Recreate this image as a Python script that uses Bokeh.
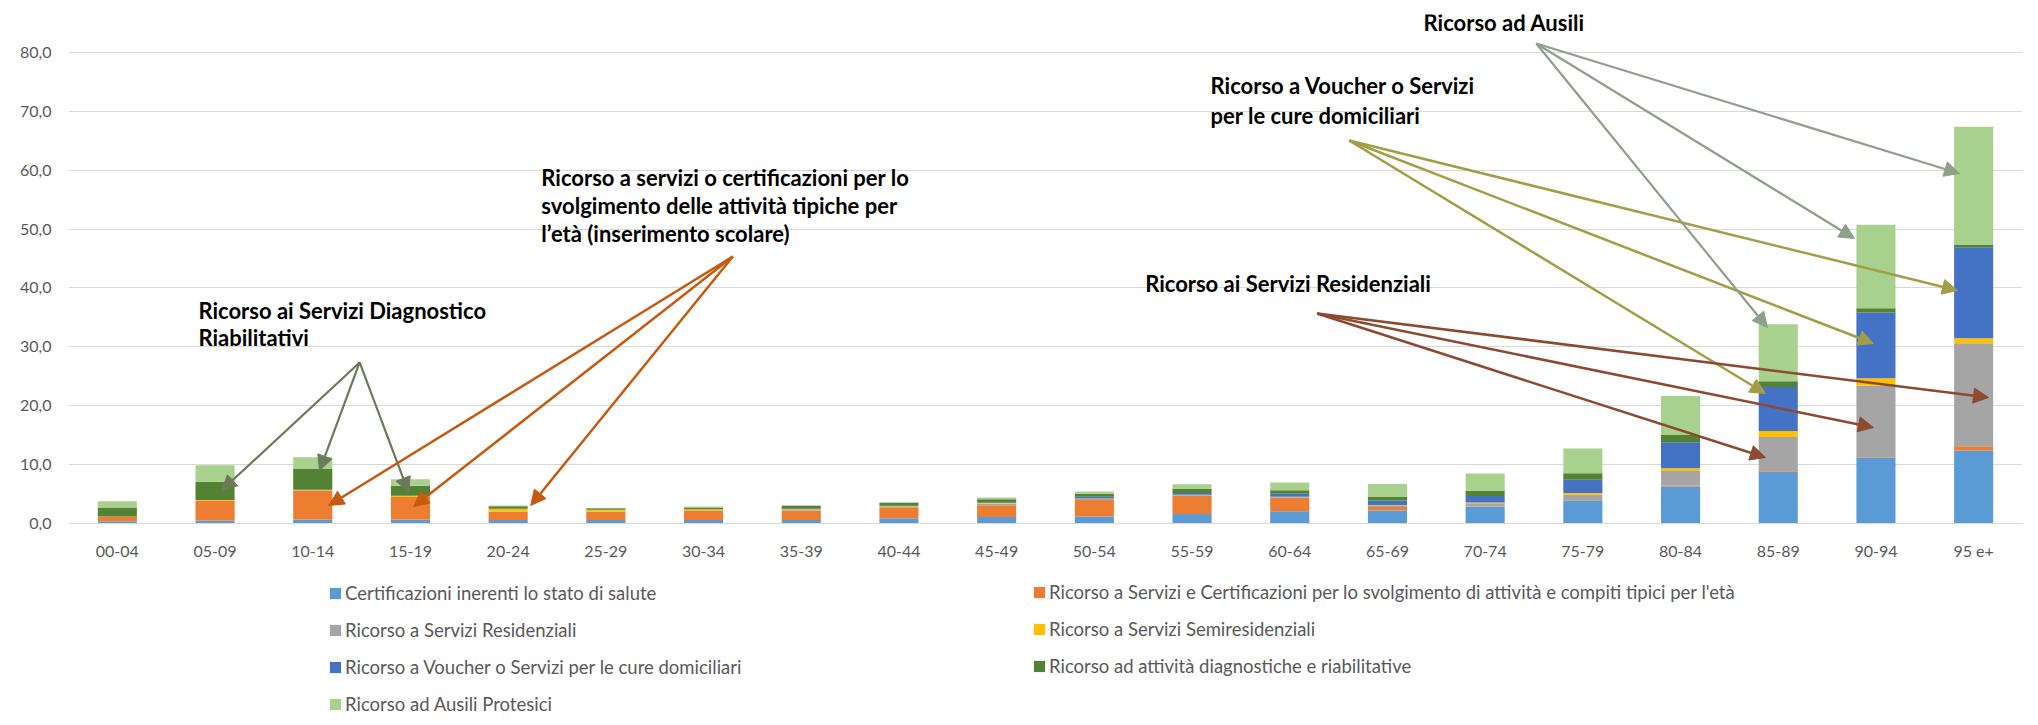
from bokeh.plotting import figure
from bokeh.layouts import column
from bokeh.models import (FactorRange, Range1d, Legend, LegendItem, Label, Arrow,
                          NormalHead, FixedTicker)
from bokeh.embed import file_html
from bokeh.resources import INLINE

# ---------------- data ----------------
categories = ["00-04", "05-09", "10-14", "15-19", "20-24", "25-29", "30-34", "35-39",
              "40-44", "45-49", "50-54", "55-59", "60-64", "65-69", "70-74", "75-79",
              "80-84", "85-89", "90-94", "95 e+"]

certificazioni = [0.4, 0.5, 0.7, 0.7, 0.6, 0.6, 0.6, 0.6, 0.9, 1.1, 1.2, 1.6, 2.1, 2.2, 2.8, 3.9, 6.3, 8.8, 11.2, 12.4]
servizi_eta = [0.8, 3.4, 4.9, 3.8, 1.4, 1.4, 1.6, 1.6, 1.8, 2.0, 2.8, 3.1, 2.3, 0.6, 0.1, 0.1, 0.1, 0.1, 0.1, 0.7]
residenziali = [0.0, 0.0, 0.05, 0.0, 0.05, 0.05, 0.05, 0.2, 0.1, 0.3, 0.2, 0.15, 0.1, 0.2, 0.55, 0.9, 2.5, 5.8, 12.1, 17.5]
semiresidenziali = [0.0, 0.1, 0.1, 0.2, 0.45, 0.3, 0.15, 0.05, 0.15, 0.1, 0.05, 0.05, 0.05, 0.1, 0.1, 0.3, 0.5, 1.0, 1.25, 0.85]
voucher = [0.0, 0.0, 0.0, 0.0, 0.0, 0.0, 0.0, 0.05, 0.05, 0.1, 0.3, 0.3, 0.5, 0.8, 1.1, 2.25, 4.4, 7.5, 11.2, 15.45]
diagnostiche = [1.5, 3.1, 3.5, 1.7, 0.45, 0.25, 0.3, 0.5, 0.5, 0.5, 0.5, 0.65, 0.6, 0.6, 0.9, 1.1, 1.25, 0.95, 0.7, 0.4]
ausili = [1.1, 2.8, 2.0, 1.1, 0.1, 0.05, 0.2, 0.1, 0.1, 0.3, 0.4, 0.8, 1.3, 2.2, 2.95, 4.2, 6.6, 9.7, 14.2, 20.1]

series_keys = ["cert", "eta", "res", "semi", "vou", "diag", "aus"]
series_labels = [
    "Certificazioni inerenti lo stato di salute",
    "Ricorso a Servizi e Certificazioni per lo svolgimento di attività e compiti tipici per l'età",
    "Ricorso a Servizi Residenziali",
    "Ricorso a Servizi Semiresidenziali",
    "Ricorso a Voucher o Servizi per le cure domiciliari",
    "Ricorso ad attività diagnostiche e riabilitative",
    "Ricorso ad Ausili Protesici",
]
series_colors = ["#5B9BD5", "#ED7D31", "#A5A5A5", "#FFC000", "#4472C4", "#548235", "#A9D18E"]

y_ticks = [0, 10, 20, 30, 40, 50, 60, 70, 80]
y_tick_labels = ["0,0", "10,0", "20,0", "30,0", "40,0", "50,0", "60,0", "70,0", "80,0"]

# ---------------- chart figure ----------------
# the frame reaches above the 80 gridline so that the top annotation stays visible
p = figure(x_range=FactorRange(*categories, range_padding=0), y_range=Range1d(0, 86.45),
           width=2030, height=573, output_backend="svg", toolbar_location=None,
           min_border_left=68, min_border_right=8, min_border_top=14, min_border_bottom=50)
p.outline_line_color = None
p.background_fill_color = "white"
p.border_fill_color = "white"

data = dict(cat=categories, cert=certificazioni, eta=servizi_eta, res=residenziali,
            semi=semiresidenziali, vou=voucher, diag=diagnostiche, aus=ausili)
renderers = p.vbar_stack(series_keys, x="cat", width=0.4, color=series_colors,
                         line_color=None, source=data)

p.xgrid.grid_line_color = None
p.ygrid.grid_line_color = "#D9D9D9"
p.ygrid.grid_line_width = 1
p.yaxis.ticker = FixedTicker(ticks=y_ticks)
p.yaxis.major_label_overrides = {t: l for t, l in zip(y_ticks, y_tick_labels)}
for ax in (p.xaxis[0], p.yaxis[0]):
    ax.major_tick_line_color = None
    ax.minor_tick_line_color = None
    ax.major_tick_out = 0
    ax.major_tick_in = 0
    ax.major_label_text_font = "Lato"
    ax.major_label_text_font_size = "16px"
    ax.major_label_text_color = "#595959"
p.yaxis.axis_line_color = None
p.yaxis.major_label_standoff = 17
p.xaxis.axis_line_color = "#D9D9D9"
p.xaxis.major_label_standoff = 17

# ---------------- annotations ----------------
font = dict(text_font="Lato", text_font_style="bold", text_font_size="22px",
            text_color="black", text_baseline="middle", text_align="left")
texts = [
    (1.33, 36.2, "Ricorso ai Servizi Diagnostico"),
    (1.33, 31.6, "Riabilitativi"),
    (4.84, 58.8, "Ricorso a servizi o certificazioni per lo"),
    (4.84, 54.0, "svolgimento delle attività tipiche per"),
    (4.84, 49.3, "l\u2019età (inserimento scolare)"),
    (11.69, 74.4, "Ricorso a Voucher o Servizi"),
    (11.69, 69.3, "per le cure domiciliari"),
    (13.87, 85.1, "Ricorso ad Ausili"),
    (11.02, 40.8, "Ricorso ai Servizi Residenziali"),
]
for x, y, t in texts:
    p.add_layout(Label(x=x, y=y, text=t, **font))

arrow_groups = [
    ("#6B7B5A", 2.2, (2.98, 27.35), [(1.567, 5.6), (2.57, 9.0), (3.48, 5.27)]),
    ("#C55A11", 2.5, (6.80, 45.35), [(2.663, 3.06), (3.533, 2.89), (4.731, 3.06)]),
    ("#A39E45", 2.5, (13.108, 65.05), [(17.368, 22.08), (18.474, 30.57), (19.334, 39.58)]),
    ("#8FA08A", 2.2, (15.023, 81.53), [(17.389, 33.29), (18.28, 48.41), (19.355, 59.45)]),
    ("#8C4A30", 2.5, (12.78, 35.67), [(17.368, 11.21), (18.474, 16.31), (19.652, 21.40)]),
]
for color, lw, (xs, ys), ends in arrow_groups:
    for xe, ye in ends:
        p.add_layout(Arrow(end=NormalHead(size=15, fill_color=color, line_color=color),
                           x_start=xs, y_start=ys, x_end=xe, y_end=ye,
                           line_color=color, line_width=lw))

# ---------------- legend figure ----------------
lg = figure(width=2030, height=144, output_backend="svg", toolbar_location=None,
            x_range=Range1d(0, 1), y_range=Range1d(0, 1),
            x_axis_location=None, y_axis_location=None,
            min_border_left=0, min_border_right=0, min_border_top=0, min_border_bottom=0)
lg.grid.visible = False
lg.outline_line_color = None
# zero-height swatch renderers: they only feed the legend
swatches = [lg.vbar(x=[0.5], top=[0], bottom=[0], width=0.0, fill_color=c, line_color=None)
            for c in series_colors]
items = [LegendItem(label=lab, renderers=[r]) for lab, r in zip(series_labels, swatches)]
common = dict(glyph_width=14, glyph_height=14, label_height=22, spacing=15,
              label_standoff=3, padding=0, margin=0, border_line_color=None,
              background_fill_alpha=0, label_text_font="Lato", label_text_font_size="18.5px",
              label_text_color="#595959")
lg.add_layout(Legend(items=[items[0], items[2], items[4], items[6]], location=(260, 2), **common))
lg.add_layout(Legend(items=[items[1], items[3], items[5]], location=(964, 40), **common))

layout = column(p, lg, spacing=0)
open("out.html", "w").write(file_html(layout, INLINE))
